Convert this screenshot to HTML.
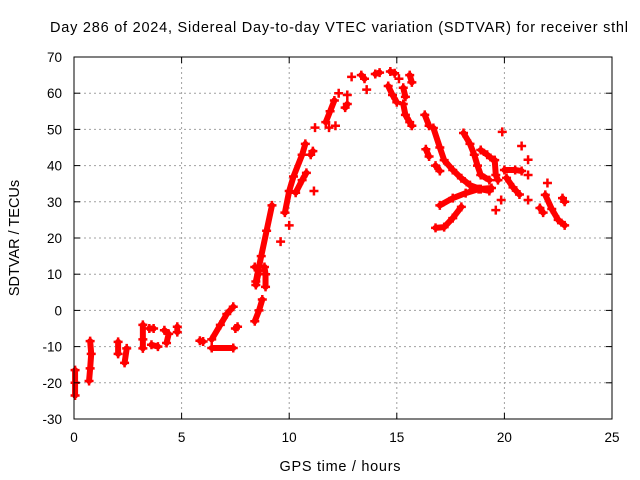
<!DOCTYPE html>
<html><head><meta charset="utf-8"><style>
body{margin:0;background:#fff}
svg{display:block;font-family:"Liberation Sans",sans-serif}
</style></head><body>
<svg id="c" width="640" height="480">
<text x="339" y="32" text-anchor="middle" font-size="14.5" textLength="578" lengthAdjust="spacing">Day 286 of 2024, Sidereal Day-to-day VTEC variation (SDTVAR) for receiver sthl</text>
<text x="340" y="471" text-anchor="middle" font-size="14.5" textLength="121" lengthAdjust="spacing">GPS time / hours</text>
<text x="19" y="238" text-anchor="middle" font-size="14.5" transform="rotate(-90 19 238)">SDTVAR / TECUs</text>
<g id="grid"></g><g id="marks"></g><g id="axes"></g>
</svg>
<script>
const xTicks=[0,5,10,15,20,25];
const yTicks=[-30,-20,-10,0,10,20,30,40,50,60,70];
// each track: list of [hour, TECU]
const tracks=[
[[0.05,-16.5],[0.05,-20],[0.05,-23.5]],
[[0.75,-8.5],[0.8,-12],[0.75,-16],[0.7,-19.5]],
[[2.05,-8.7],[2.05,-12]],
[[2.45,-10.5],[2.35,-14.5]],
[[3.2,-4],[3.2,-8],[3.2,-10.5]],
[[3.5,-5],[3.7,-5]],[[3.6,-9.5],[3.9,-10]],
[[4.2,-5.5],[4.4,-6.5],[4.3,-9]],[[4.8,-4.5],[4.8,-6]],
[[5.85,-8.4],[6.0,-8.6]],
[[6.4,-8],[6.8,-4],[7.1,-1],[7.4,1]],
[[6.4,-10.4],[7.4,-10.4]],
[[7.5,-5],[7.6,-4.5]],
[[8.4,-3],[8.6,0],[8.75,3]],
[[8.45,7],[8.6,11],[8.4,12]],
[[8.45,8],[8.7,15],[8.95,22],[9.2,29]],
[[8.9,6.5],[8.9,10],[8.85,12]],
[[9.6,19]],[[10.0,23.5]],
[[9.8,27],[10.0,33],[10.2,37],[10.6,43],[10.75,46]],
[[10.3,32.5],[10.6,36],[10.8,38]],
[[11.15,33]],[[11.0,43],[11.1,44]],[[11.2,50.5]],
[[11.7,52],[11.9,55],[12.1,58]],[[11.85,50.5]],[[12.15,51]],
[[12.3,60]],[[12.7,59.5]],[[12.9,64.5]],[[12.6,56],[12.7,57]],
[[13.35,65],[13.5,64]],[[13.6,61]],[[14.0,65.3],[14.2,65.7]],
[[14.7,66],[14.9,65.5]],[[15.1,64]],
[[14.6,62],[14.8,59.5],[15.0,57.5]],
[[15.3,61.5],[15.4,59]],[[15.6,65],[15.7,63]],
[[15.3,57],[15.4,54],[15.6,52],[15.7,51]],
[[16.3,54],[16.5,51]],
[[16.7,50.4],[17.0,45],[17.2,41.5],[17.6,38.8],[18.0,36.5],[18.4,34.6],[18.9,33.5],[19.3,33]],
[[16.35,44.5],[16.5,42.5]],[[16.8,40],[17.0,38.5]],
[[18.1,49],[18.4,46],[18.6,43],[18.75,40],[18.9,37.4],[19.3,36]],
[[17.0,29],[17.6,31],[18.2,32.4],[18.8,33.5],[19.4,33.8]],
[[16.8,22.8],[17.2,23],[17.6,25.5],[18.0,28.6]],
[[18.9,44.3],[19.2,43],[19.5,41.5]],
[[19.55,41.5],[19.6,37.4],[19.7,36]],
[[19.9,49.3]],[[20.8,45.4]],
[[20.0,38.8],[20.5,38.8],[20.8,38.5]],
[[20.1,36.6],[20.4,34],[20.7,32]],
[[21.1,41.6]],[[21.1,37.4]],[[21.1,30.5]],[[19.85,30.5]],[[19.6,27.7]],
[[22.0,35.2]],[[22.7,31],[22.8,30]],[[21.65,28.3],[21.8,27]],
[[21.9,31.9],[22.2,28],[22.5,25],[22.8,23.5]]
];
const NS='http://www.w3.org/2000/svg';
const L=74,R=612,T=57,B=419;
const X=t=>L+(t-0)/25*(R-L);
const Y=v=>B-(v+30)/100*(B-T);
function mk(tag,attrs,parent){const e=document.createElementNS(NS,tag);for(const k in attrs)e.setAttribute(k,attrs[k]);parent.appendChild(e);return e;}
const grid=document.getElementById('grid'),axes=document.getElementById('axes'),marks=document.getElementById('marks');
xTicks.forEach(t=>{
 if(t>0&&t<25){const g=mk('line',{x1:X(t),x2:X(t),y1:T,y2:B,stroke:'#a0a0a0','stroke-dasharray':'2,3'},grid);
 
 }
 mk('line',{x1:X(t),x2:X(t),y1:B,y2:B-6,stroke:'#000'},axes);
 mk('line',{x1:X(t),x2:X(t),y1:T,y2:T+6,stroke:'#000'},axes);
 const lb=mk('text',{x:X(t),y:B+23,'text-anchor':'middle','font-size':'13.5'},axes);lb.textContent=t;
 
 
});
yTicks.forEach(v=>{
 if(v>-30&&v<70){const g=mk('line',{x1:L,x2:R,y1:Y(v),y2:Y(v),stroke:'#a0a0a0','stroke-dasharray':'2,3'},grid);
 
 }
 mk('line',{x1:L,x2:L+6,y1:Y(v),y2:Y(v),stroke:'#000'},axes);
 mk('line',{x1:R,x2:R-6,y1:Y(v),y2:Y(v),stroke:'#000'},axes);
 const lb=mk('text',{x:L-12,y:Y(v)+5,'text-anchor':'end','font-size':'13.5'},axes);lb.textContent=v;
 
 
});
const fr=mk('rect',{x:L,y:T,width:R-L,height:B-T,fill:'none',stroke:'#000'},axes);


tracks.forEach(tr=>{
 const g=mk('g',{},marks);
 
 
 if(tr.length>1){mk('polyline',{points:tr.map(p=>X(p[0])+','+Y(p[1])).join(' '),fill:'none',stroke:'#f00','stroke-width':6,'stroke-linejoin':'round','stroke-linecap':'round'},g);}
 tr.forEach(p=>{
  const x=X(p[0]),y=Y(p[1]);
  const pt=mk('path',{d:`M${x-4.5},${y}H${x+4.5}M${x},${y-4.5}V${y+4.5}`,stroke:'#f00','stroke-width':2.5},g);
  
  
 });
});
</script>
</body></html>
